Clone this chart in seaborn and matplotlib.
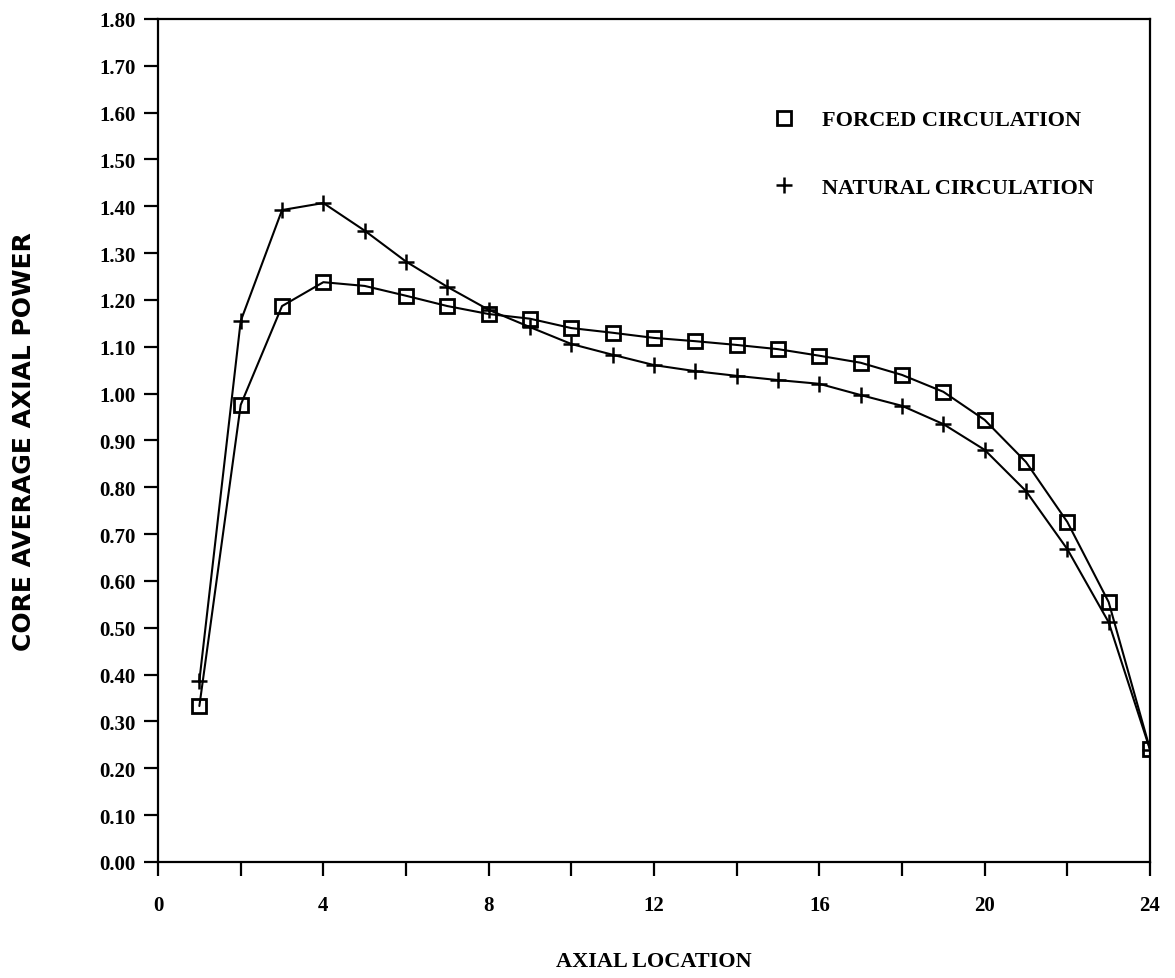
import matplotlib
matplotlib.use("Agg")
import matplotlib.pyplot as plt
from matplotlib.lines import Line2D
from matplotlib.ticker import MultipleLocator, FormatStrFormatter
import seaborn as sns
import pandas as pd

axial_location = list(range(1, 25))
forced_circulation = [0.333, 0.976, 1.187, 1.238, 1.230, 1.209, 1.187, 1.170,
                      1.160, 1.140, 1.130, 1.119, 1.112, 1.104, 1.095, 1.081,
                      1.066, 1.040, 1.004, 0.944, 0.854, 0.726, 0.555, 0.241]
natural_circulation = [0.387, 1.155, 1.392, 1.407, 1.348, 1.282, 1.228, 1.179,
                       1.142, 1.106, 1.083, 1.061, 1.048, 1.038, 1.029, 1.021,
                       0.997, 0.974, 0.935, 0.880, 0.792, 0.668, 0.512, 0.240]
series_names = ["FORCED CIRCULATION", "NATURAL CIRCULATION"]
y_ticks = [round(0.1 * i, 2) for i in range(19)]
x_major_ticks = [0, 4, 8, 12, 16, 20, 24]

df = pd.DataFrame({
    "x": axial_location * 2,
    "y": forced_circulation + natural_circulation,
    "series": [series_names[0]] * 24 + [series_names[1]] * 24,
})

sns.set_theme(style="ticks", rc={"text.color": "black", "axes.labelcolor": "black",
                                 "xtick.color": "black", "ytick.color": "black",
                                 "axes.edgecolor": "black"})
plt.rcParams["font.family"] = ["Liberation Serif", "DejaVu Sans"]

fig = plt.figure(figsize=(11.75, 9.79), dpi=100)
ax = fig.add_axes([0.1345, 0.1185, 0.8442, 0.8611])

sns.lineplot(data=df[df.series == series_names[0]], x="x", y="y", ax=ax,
             color="black", lw=1.5, marker="s", markersize=10,
             markerfacecolor="none", markeredgecolor="black", markeredgewidth=2.0,
             legend=False)
sns.lineplot(data=df[df.series == series_names[1]], x="x", y="y", ax=ax,
             color="black", lw=1.5, marker="+", markersize=12,
             markeredgecolor="black", markeredgewidth=1.8, legend=False)

ax.set_xlim(0, 24)
ax.set_ylim(0, 1.80)
ax.set_xticks(x_major_ticks)
ax.xaxis.set_minor_locator(MultipleLocator(2))
ax.set_yticks(y_ticks)
ax.yaxis.set_major_formatter(FormatStrFormatter("%.2f"))

for s in ax.spines.values():
    s.set_linewidth(1.6)
    s.set_color("black")
ax.tick_params(axis="both", which="both", direction="out", length=10, width=1.6,
               color="black")
ax.tick_params(axis="y", labelsize=15, pad=6)
ax.tick_params(axis="x", labelsize=15, pad=14)
for lab in ax.get_xticklabels() + ax.get_yticklabels():
    lab.set_fontweight("bold")

ax.set_xlabel("AXIAL LOCATION", fontsize=16, fontweight="bold")
ax.set_ylabel("CORE AVERAGE AXIAL POWER", fontsize=18, fontweight="bold",
              family=["DejaVu Sans"])
ax.xaxis.label.set_va("center")
ax.yaxis.label.set_va("center")
ax.xaxis.set_label_coords(0.5, (863 - 962) / 843)
ax.yaxis.set_label_coords((24 - 158) / 992, 0.5)

handles = [
    Line2D([], [], ls="none", marker="s", markersize=10, markerfacecolor="none",
           markeredgecolor="black", markeredgewidth=2.0),
    Line2D([], [], ls="none", marker="+", markersize=12, color="black",
           markeredgecolor="black", markeredgewidth=1.8),
]
leg = ax.legend(handles, series_names, loc="upper left",
                bbox_to_anchor=(0.60, 0.916), frameon=False,
                prop={"size": 16, "weight": "bold"}, labelspacing=2.1,
                handletextpad=1.2, handlelength=1.0)

fig.savefig("out.png", dpi=100, facecolor="white")
